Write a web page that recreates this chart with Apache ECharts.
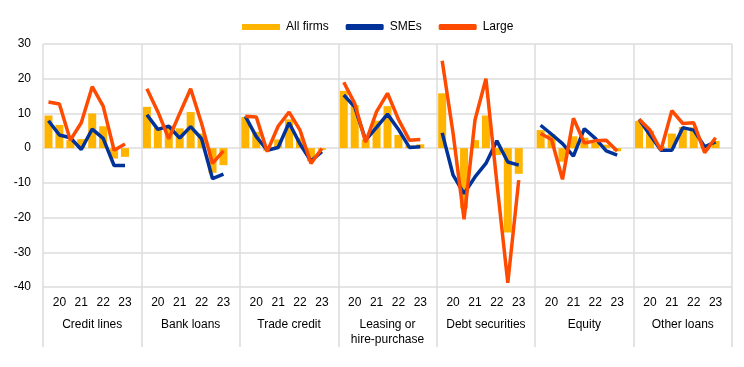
<!DOCTYPE html>
<html>
<head>
<meta charset="utf-8">
<script src="https://cdn.jsdelivr.net/npm/echarts@6/dist/echarts.min.js"></script>
<style>html,body{margin:0;padding:0;background:#fff}#c{width:744px;height:367px}</style>
</head>
<body>
<div id="c"></div>
<script>
// Instruments (groups) and half-year periods within each group
const groups = ['Credit lines', 'Bank loans', 'Trade credit', 'Leasing or\nhire-purchase', 'Debt securities', 'Equity', 'Other loans'];
const periodLabels = ['', '20', '', '21', '', '22', '', '23'];

// All firms (bars), per group, 8 periods each
const allFirms = [
  [9.4, 6.7, 2.3, 2.6, 10.0, 6.3, -3.0, -2.5],
  [11.9, 6.0, 6.5, 5.7, 10.4, 4.2, -7.1, -4.9],
  [9.0, 4.7, -0.8, 2.5, 8.3, 3.0, -3.8, -0.5],
  [16.5, 12.4, 2.5, 7.9, 12.1, 3.8, 0.8, 1.1],
  [15.8, -0.4, -17.4, 2.3, 9.4, -2.0, -24.3, -7.4],
  [5.2, 4.0, -3.9, 3.4, 3.0, 1.5, 1.0, -0.9],
  [7.8, 5.0, 0.5, 4.2, 6.1, 6.0, 1.0, 2.1]
];
// SMEs (line)
const smes = [
  [7.9, 3.8, 3.0, -0.4, 5.5, 2.8, -5.0, -5.0],
  [9.6, 5.4, 6.3, 2.9, 6.2, 2.7, -8.8, -7.5],
  [9.2, 3.3, -0.6, 0.2, 7.3, 1.2, -3.7, -1.0],
  [15.3, 11.9, 2.3, 6.0, 9.8, 5.4, 0.2, 0.4],
  [4.4, -7.8, -13.1, -8.3, -4.4, 2.1, -4.0, -4.9],
  [6.6, 4.0, 1.3, -2.3, 5.6, 2.8, -0.8, -2.0],
  [8.3, 3.8, -0.6, -0.6, 5.9, 5.2, 0.4, 1.8]
];
// Large firms (line)
const large = [
  [13.3, 12.7, 2.3, 7.3, 17.7, 12.1, -0.6, 1.2],
  [17.1, 10.5, 2.7, 10.0, 17.1, 7.1, -4.4, -0.8],
  [9.2, 9.0, -1.0, 6.3, 10.4, 5.2, -4.4, -0.1],
  [19.0, 12.9, 1.7, 10.5, 15.8, 8.3, 2.3, 2.5],
  [25.2, 4.2, -20.5, 8.1, 20.0, -10.0, -38.8, -9.2],
  [4.2, 2.5, -9.0, 8.6, 1.5, 2.1, 2.3, -0.8],
  [8.3, 5.2, -0.6, 10.8, 7.1, 7.3, -1.3, 3.0]
];
const yTicks = {min: -40, max: 30, step: 10};

// Flatten: each group = 8 periods + 1 empty slot
function flat(arr) {
  const out = [];
  arr.forEach(g => { g.forEach(v => out.push(v)); out.push(null); });
  return out;
}
const cats = [];
groups.forEach(() => { periodLabels.forEach(p => cats.push(p)); cats.push(''); });

const font = 'Liberation Sans, Arial, sans-serif';
const grid = '#dcdcdc';
const chart = echarts.init(document.getElementById('c'), null, {renderer: 'canvas'});
chart.setOption({
  animation: false,
  textStyle: {fontFamily: font},
  legend: {
    left: 237, top: 16, itemGap: 17, itemWidth: 38, itemHeight: 6,
    textStyle: {fontFamily: font, fontSize: 12, color: '#000', padding: [0, 0, 0, 1]},
    data: [
      {name: 'All firms', icon: 'rect'},
      {name: 'SMEs', icon: 'roundRect'},
      {name: 'Large', icon: 'roundRect'}
    ]
  },
  grid: {left: 43, right: 12, top: 44, bottom: 80, containLabel: false},
  xAxis: [
    {
      type: 'category', data: cats, position: 'bottom',
      boundaryGap: true,
      axisLine: {show: false}, axisTick: {show: false}, splitLine: {show: false},
      axisLabel: {interval: 0, margin: 10, fontFamily: font, fontSize: 12, color: '#000'}
    },
    {
      type: 'category', data: groups, position: 'bottom',
      boundaryGap: true,
      axisLine: {show: false},
      axisTick: {show: true, length: 60, lineStyle: {color: grid, width: 1.5}},
      splitLine: {show: true, lineStyle: {color: grid, width: 1.5}},
      axisLabel: {interval: 0, margin: 30, fontFamily: font, fontSize: 12, color: '#000', lineHeight: 15}
    }
  ],
  yAxis: {
    type: 'value', min: yTicks.min, max: yTicks.max, interval: yTicks.step,
    axisLine: {show: false}, axisTick: {show: false},
    splitLine: {lineStyle: {color: grid, width: 1.5}},
    axisLabel: {margin: 12, fontFamily: font, fontSize: 12, color: '#000'}
  },
  series: [
    {name: 'All firms', type: 'bar', data: flat(allFirms), barWidth: 8,
     itemStyle: {color: '#ffb400'}, xAxisIndex: 0},
    {name: 'SMEs', type: 'line', data: flat(smes), symbol: 'none', connectNulls: false,
     lineStyle: {color: '#003299', width: 3.5}, itemStyle: {color: '#003299'}, xAxisIndex: 0},
    {name: 'Large', type: 'line', data: flat(large), symbol: 'none', connectNulls: false,
     lineStyle: {color: '#ff4b00', width: 3.5}, itemStyle: {color: '#ff4b00'}, xAxisIndex: 0}
  ]
});
</script>
</body>
</html>
